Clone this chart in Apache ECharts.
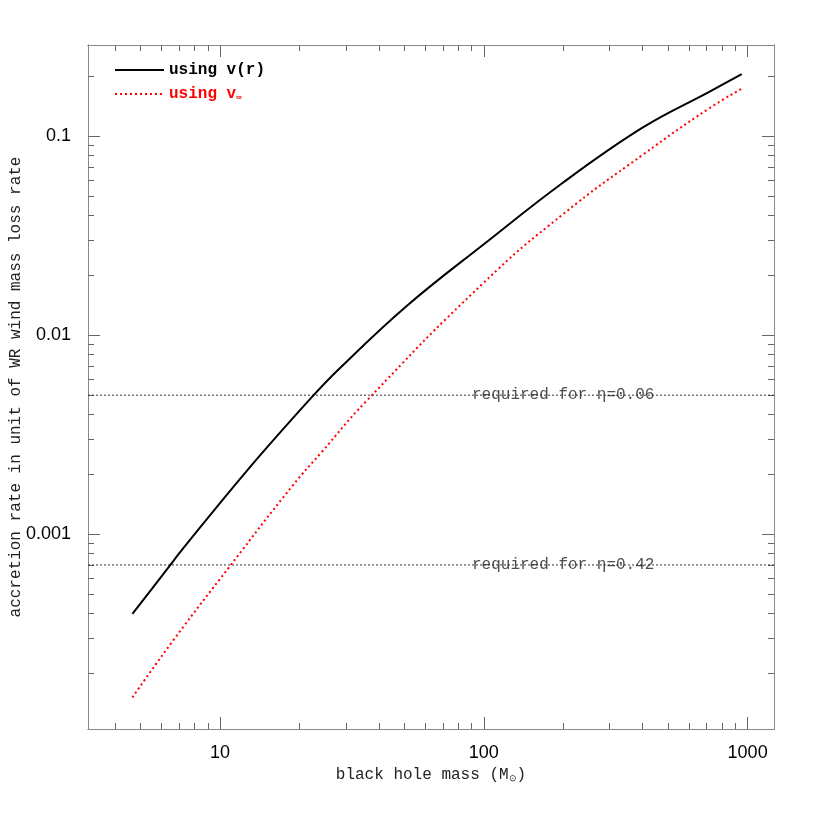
<!DOCTYPE html>
<html>
<head>
<meta charset="utf-8">
<script src="https://cdn.jsdelivr.net/npm/echarts@6/dist/echarts.min.js"></script>
<style>
  html, body { margin: 0; padding: 0; background: #fff; }
  #chart { width: 817px; height: 817px; }
</style>
</head>
<body>
<div id="chart"></div>
<script>
// black hole mass (M_sun) and accretion rate
var massVr = [4.66, 6.49, 7.03, 12.6, 21.9, 28.2, 50.9, 100, 200, 401, 718, 950];
var rateVr = [3.97e-4, 7.0e-4, 8.05e-4, 2.07e-3, 4.76e-3, 6.75e-3, 1.40e-2, 2.87e-2, 5.87e-2, 0.111, 0.168, 0.206];

var massVinf = [4.66, 6.69, 11.0, 18.9, 24.2, 35.9, 100, 200, 401, 718, 945];
var rateVinf = [1.51e-4, 2.95e-4, 7.0e-4, 1.76e-3, 2.57e-3, 4.67e-3, 0.0184, 0.0407, 0.081, 0.139, 0.173];

// required levels and their labels
var reqLevels = [0.005, 7e-4];
var reqLabels = ['required for η=0.06', 'required for η=0.42'];
var reqLabelMass = 200;

// ticks
var xMajor = [10, 100, 1000];
var xMinor = [4, 5, 6, 7, 8, 9, 20, 30, 40, 50, 60, 70, 80, 90, 200, 300, 400, 500, 600, 700, 800, 900];
var yMajor = [0.001, 0.01, 0.1];
var yMinor = [2e-4, 3e-4, 4e-4, 5e-4, 6e-4, 7e-4, 8e-4, 9e-4,
              0.002, 0.003, 0.004, 0.005, 0.006, 0.007, 0.008, 0.009,
              0.02, 0.03, 0.04, 0.05, 0.06, 0.07, 0.08, 0.09, 0.2];

var xMin = Math.pow(10, 0.5), xMax = Math.pow(10, 3.1);
var yMin = Math.pow(10, -3.98), yMax = Math.pow(10, -0.54);

var mono = 'Liberation Mono';
var sans = 'Liberation Sans';

function zip(a, b) {
    return a.map(function (v, i) { return [v, b[i]]; });
}

// one axis of the frame: major or minor ticks, bottom/top or left/right
function xAx(pos, values, len, labels) {
    return {
        type: 'log', logBase: 10, min: xMin, max: xMax, position: pos,
        axisLine: { show: true, lineStyle: { color: '#888', width: 1 } },
        axisTick: { show: true, inside: true, length: len, customValues: values,
                    lineStyle: { color: '#666', width: 1 } },
        axisLabel: labels ? {
            show: true, customValues: xMajor, margin: 15,
            fontFamily: sans, fontSize: 18, color: '#000',
            formatter: function (v) { return String(v); }
        } : { show: false },
        splitLine: { show: false },
        minorTick: { show: false }
    };
}
function yAx(pos, values, len, labels) {
    return {
        type: 'log', logBase: 10, min: yMin, max: yMax, position: pos,
        axisLine: { show: true, lineStyle: { color: '#888', width: 1 } },
        axisTick: { show: true, inside: true, length: len, customValues: values,
                    lineStyle: { color: '#666', width: 1 } },
        axisLabel: labels ? {
            show: true, customValues: yMajor, margin: 17,
            fontFamily: sans, fontSize: 18, color: '#000',
            formatter: function (v) { return String(v); }
        } : { show: false },
        splitLine: { show: false },
        minorTick: { show: false }
    };
}

var xBottom = xAx('bottom', xMajor, 12, true);
xBottom.name = 'black hole mass (M{s|⊙})';
xBottom.nameLocation = 'middle';
xBottom.nameGap = 37;
xBottom.nameMoveOverlap = false;
xBottom.nameTextStyle = {
    fontFamily: mono, fontSize: 16, color: '#222',
    rich: { s: { fontFamily: mono, fontSize: 9, color: '#222', verticalAlign: 'bottom', padding: [8, 0, 0, 0] } }
};

var yLeft = yAx('left', yMajor, 12, true);
yLeft.name = 'accretion rate in unit of WR wind mass loss rate';
yLeft.nameLocation = 'middle';
yLeft.nameGap = 64;
yLeft.nameMoveOverlap = false;
yLeft.nameTextStyle = { fontFamily: mono, fontSize: 16, color: '#222' };

// horizontal dotted lines for the required levels
var reqSeries = reqLevels.map(function (v, i) {
    return {
        name: 'req' + i,
        type: 'line',
        data: [[xMin, v], [xMax, v]],
        symbol: 'none',
        silent: true,
        lineStyle: { color: '#333', width: 1, type: [2, 2] },
        z: 1
    };
});

var option = {
    backgroundColor: '#fff',
    animation: false,
    grid: { left: 88, right: 43, top: 45, bottom: 88, containLabel: false, outerBoundsMode: 'none' },
    legend: {
        data: [
            { name: 'using v(r)', textStyle: { color: '#000' } },
            { name: 'using v∞', textStyle: { color: '#ff0000' } }
        ],
        orient: 'vertical',
        left: 114, top: 62, padding: 0,
        itemWidth: 49, itemHeight: 14, itemGap: 8,
        itemStyle: { color: 'transparent', borderColor: 'transparent', borderWidth: 0 },
        textStyle: {
            fontFamily: mono, fontSize: 16, fontWeight: 'bold',
            rich: { s: { fontFamily: mono, fontSize: 9, fontWeight: 'bold', verticalAlign: 'bottom', padding: [8, 0, 0, 0] } }
        },
        formatter: function (name) {
            return name === 'using v∞' ? 'using v{s|∞}' : name;
        }
    },
    xAxis: [
        xBottom,
        xAx('bottom', xMinor, 6, false),
        xAx('top', xMajor, 12, false),
        xAx('top', xMinor, 6, false)
    ],
    yAxis: [
        yLeft,
        yAx('left', yMinor, 6, false),
        yAx('right', yMajor, 12, false),
        yAx('right', yMinor, 6, false)
    ],
    series: [
        {
            name: 'using v(r)',
            type: 'line',
            data: zip(massVr, rateVr),
            symbol: 'none',
            smooth: 0.4,
            lineStyle: { color: '#000', width: 2 },
            itemStyle: { color: '#000' },
            z: 3
        },
        {
            name: 'using v∞',
            type: 'line',
            data: zip(massVinf, rateVinf),
            symbol: 'none',
            smooth: 0.5,
            lineStyle: { color: '#ff0000', width: 2, type: [2, 3] },
            itemStyle: { color: '#ff0000' },
            z: 3
        },
        {
            // text of the required levels
            name: 'required',
            type: 'scatter',
            data: reqLevels.map(function (v) { return [reqLabelMass, v]; }),
            symbolSize: 1,
            silent: true,
            itemStyle: { color: 'transparent' },
            label: {
                show: true,
                position: 'inside',
                fontFamily: mono, fontSize: 16, color: '#222',
                formatter: function (p) { return reqLabels[p.dataIndex]; }
            },
            z: 2
        }
    ].concat(reqSeries)
};

var myChart = echarts.init(document.getElementById('chart'), null, { renderer: 'canvas' });
myChart.setOption(option);
</script>
</body>
</html>
